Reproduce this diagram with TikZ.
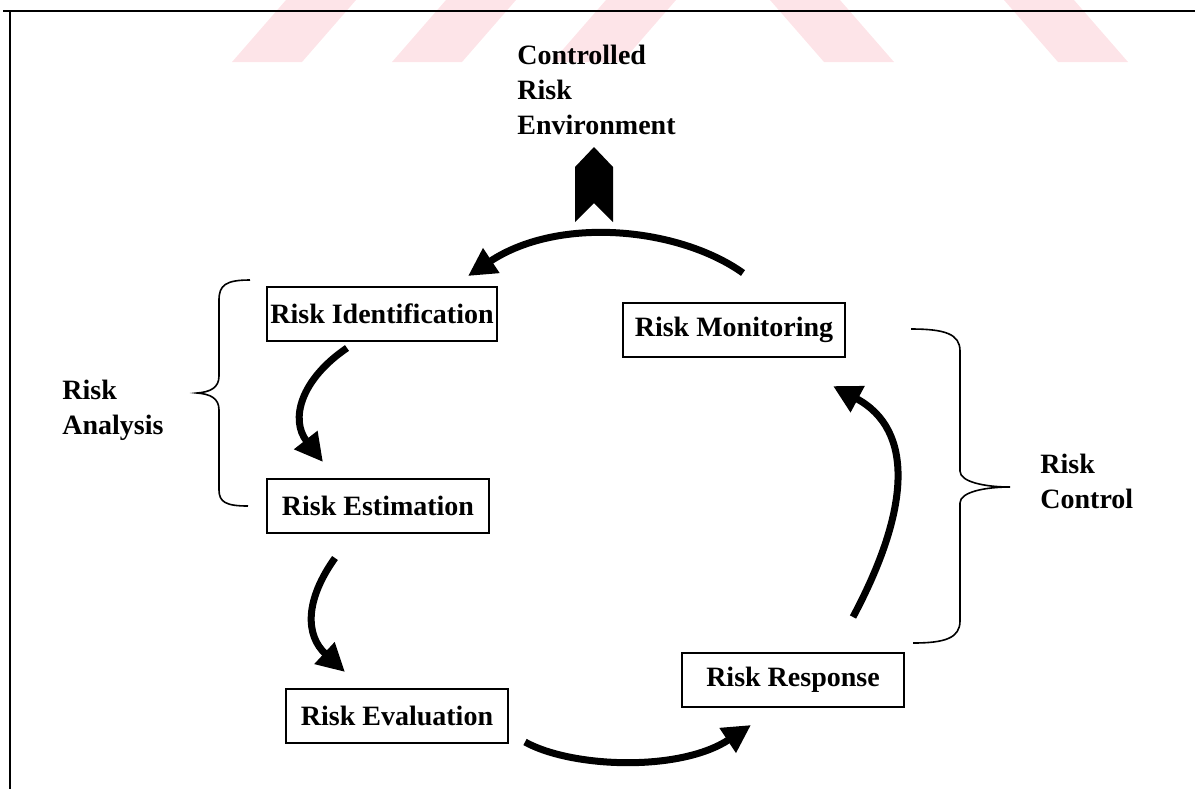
\documentclass[tikz,border=0pt]{standalone}
\usepackage{fontspec}
\setmainfont{Liberation Serif}
\usetikzlibrary{arrows.meta}
\definecolor{wmark}{RGB}{253,228,232}
\begin{document}
\begin{tikzpicture}[x=0.5pt,y=-0.5pt,
  stage/.style={draw, line width=1pt, font=\fontsize{14}{17.5}\selectfont\bfseries,
    minimum width=111pt, minimum height=27pt, inner sep=0pt},
  note/.style={font=\fontsize{14}{17.5}\selectfont\bfseries, align=left,
    anchor=west, inner sep=0pt},
  flow/.style={line width=3.5pt, -{Triangle[length=14pt,width=14pt]}},
  groupline/.style={line width=0.8pt}]
\useasboundingbox (0,0) rectangle (1195,789);

% faint band along the top edge
\begin{scope}[fill=wmark]
  \fill (232,62) -- (302,62) -- (356,0) -- (286,0) -- cycle;
  \fill (392,62) -- (462,62) -- (516,0) -- (446,0) -- cycle;
  \fill (552,62) -- (622,62) -- (676,0) -- (606,0) -- cycle;
  \fill (770,0) -- (840,0) -- (894,62) -- (824,62) -- cycle;
  \fill (1004,0) -- (1074,0) -- (1128,62) -- (1058,62) -- cycle;
\end{scope}

% frame
\draw[line width=1.2pt] (3,11) -- (1195,11);
\draw[line width=1.4pt] (10,11) -- (10,789);

% stages
\node[stage, minimum width=115pt] (ri) at (382,314) {Risk Identification};
\node[stage] (re) at (378,506) {Risk Estimation};
\node[stage] (rev) at (397,716) {Risk Evaluation};
\node[stage] (rr) at (793,680) {Risk Response};
\node[stage] (rm) at (734,330) {Risk Monitoring};

% labels
\node[note] (cre) at (517,90) {Controlled\\Risk\\Environment};
\node[note] (ra) at (62,410) {Risk\\Analysis};
\node[note] (rc) at (1040,481) {Risk\\Control};

% exit marker
\fill (575,167) -- (594,147) -- (613,167) -- (613,222) -- (594,203) -- (575,222) -- cycle;

% connector ends
\coordinate (rm-out) at (743,273);
\coordinate (ri-in) at (468,276);
\coordinate (ri-out) at (347,348);
\coordinate (re-in) at (323,462);
\coordinate (re-out) at (335,558);
\coordinate (rev-in) at (345,672);
\coordinate (rev-out) at (525,742);
\coordinate (rr-in) at (751,725);
\coordinate (rr-out) at (853,617);
\coordinate (rm-in) at (833,386);

% cycle arrows
\draw[flow] (rm-out) .. controls (680,228) and (560,215) .. (ri-in);
\draw[flow] (ri-out) .. controls (300,380) and (290,420) .. (re-in);
\draw[flow] (re-out) .. controls (305,600) and (305,635) .. (rev-in);
\draw[flow] (rev-out) .. controls (572,768) and (680,772) .. (rr-in);
\draw[flow] (rr-out) .. controls (910,510) and (915,430) .. (rm-in);

% group braces
\draw[groupline] (250,280) .. controls (226,280) and (219,285) .. (219,300)
  -- (219,376) .. controls (219,388) and (210,392) .. (197,393)
  .. controls (210,394) and (219,398) .. (219,410)
  -- (219,490) .. controls (219,502) and (226,506) .. (248,506);
\draw[groupline] (911,329) .. controls (945,329) and (960,334) .. (960,351)
  -- (960,471) .. controls (960,482) and (985,487) .. (1010,487)
  .. controls (985,487) and (960,492) .. (960,503)
  -- (960,621) .. controls (960,638) and (945,643) .. (913,643);
\end{tikzpicture}
\end{document}
